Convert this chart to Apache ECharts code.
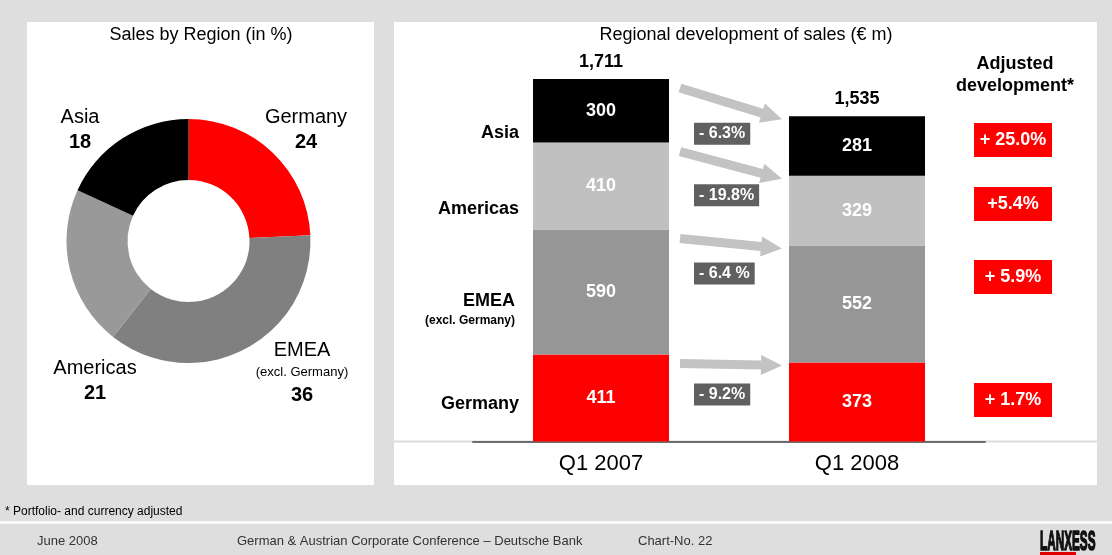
<!DOCTYPE html>
<html>
<head>
<meta charset="utf-8">
<script src="https://cdn.jsdelivr.net/npm/echarts@6/dist/echarts.min.js"></script>
<style>
  html, body { margin: 0; padding: 0; background: #dedede; }
  #chart { width: 1112px; height: 555px; }
</style>
</head>
<body>
<div id="chart"></div>
<script>
// data
const regions = ['Germany', 'EMEA', 'Americas', 'Asia'];
const regionNotes = ['', '(excl. Germany)', '', ''];
const quarters = ['Q1 2007', 'Q1 2008'];
const salesQ107 = [411, 590, 410, 300];
const salesQ108 = [373, 552, 329, 281];
const totals = [1711, 1535];
const sharePct = [24, 36, 21, 18];
const changes = ['- 9.2%', '- 6.4 %', '- 19.8%', '- 6.3%'];
const adjusted = ['+ 1.7%', '+ 5.9%', '+5.4%', '+ 25.0%'];

// styles
const FONT = '"Liberation Sans", Arial, sans-serif';
const barColors = ['#ff0000', '#969696', '#c0c0c0', '#000000'];
const pieColors = ['#ff0000', '#808080', '#999999', '#000000'];
const BAR_W = 136;

// label positions (pie labels, row labels, adjusted boxes)
const pieLabelPos = [[306, 130], [302, 373], [95, 381], [80, 130]];
const rowLabelY = [404, 301, 209, 133];
const adjustedY = [383, 260, 187, 123];

const chart = echarts.init(document.getElementById('chart'));

const fmt = v => String(v).replace(/\B(?=(\d{3})+(?!\d))/g, ',');

// cumulative tops of each segment, used for the arrows
let c07 = 0, c08 = 0;
const arrowData = regions.map((r, i) => {
  c07 += salesQ107[i];
  c08 += salesQ108[i];
  return [0, c07, c08, i];
});

const barSeries = regions.map((r, i) => ({
  name: r,
  type: 'bar',
  stack: 'sales',
  barWidth: BAR_W,
  data: [salesQ107[i], salesQ108[i]],
  itemStyle: { color: barColors[i] },
  label: {
    show: true,
    position: 'inside',
    color: '#fff',
    fontWeight: 'bold',
    fontSize: 18,
    fontFamily: FONT
  },
  silent: true
}));

const graphics = [
  { type: 'rect', shape: { x: 27, y: 22, width: 347, height: 463 }, style: { fill: '#fff' } },
  { type: 'rect', shape: { x: 394, y: 22, width: 703, height: 463 }, style: { fill: '#fff' } },
  { type: 'rect', shape: { x: 394, y: 440.5, width: 703, height: 2 }, style: { fill: '#dcdcdc' } },
  { type: 'rect', shape: { x: 0, y: 521, width: 1112, height: 3 }, style: { fill: '#f8f8f8' } },
  { type: 'text', x: 201, y: 35, style: { text: 'Sales by Region (in %)', font: '18px ' + FONT, fill: '#000', align: 'center', verticalAlign: 'middle' } },
  { type: 'text', x: 746, y: 35, style: { text: 'Regional development of sales (€ m)', font: '18px ' + FONT, fill: '#000', align: 'center', verticalAlign: 'middle' } },
  { type: 'text', x: 1015, y: 75, style: { text: 'Adjusted\ndevelopment*', font: 'bold 18px ' + FONT, lineHeight: 22, fill: '#000', align: 'center', verticalAlign: 'middle' } },
  { type: 'text', x: 5, y: 512, style: { text: '* Portfolio- and currency adjusted', font: '12px ' + FONT, fill: '#000', verticalAlign: 'middle' } },
  { type: 'text', x: 37, y: 541, style: { text: 'June 2008', font: '13px ' + FONT, fill: '#333', verticalAlign: 'middle' } },
  { type: 'text', x: 237, y: 541, style: { text: 'German & Austrian Corporate Conference – Deutsche Bank', font: '13px ' + FONT, fill: '#333', verticalAlign: 'middle' } },
  { type: 'text', x: 638, y: 541, style: { text: 'Chart-No. 22', font: '13px ' + FONT, fill: '#333', verticalAlign: 'middle' } },
  { type: 'text', x: 1040, y: 542, scaleX: 0.42, style: { text: 'LANXESS', font: 'bold 28px ' + FONT, fill: '#111', stroke: '#111', lineWidth: 1.6, verticalAlign: 'middle' } },
  { type: 'rect', shape: { x: 1040, y: 552, width: 36, height: 3 }, style: { fill: '#e00000' } }
];

regions.forEach((r, i) => {
  const right = i === 1 ? 515 : 519;
  graphics.push({ type: 'text', x: right, y: rowLabelY[i], style: { text: r, font: 'bold 18px ' + FONT, fill: '#000', align: 'right', verticalAlign: 'middle' } });
  if (regionNotes[i]) {
    graphics.push({ type: 'text', x: right, y: rowLabelY[i] + 20, style: { text: regionNotes[i], font: 'bold 12px ' + FONT, fill: '#000', align: 'right', verticalAlign: 'middle' } });
  }
  graphics.push({ type: 'rect', shape: { x: 974, y: adjustedY[i], width: 78, height: 34 }, style: { fill: '#ff0000' } });
  graphics.push({ type: 'text', x: 1013, y: adjustedY[i] + 17, style: { text: adjusted[i], font: 'bold 18px ' + FONT, fill: '#fff', align: 'center', verticalAlign: 'middle' } });
});

const option = {
  backgroundColor: '#dedede',
  animation: false,
  textStyle: { fontFamily: FONT },
  graphic: graphics,
  grid: { left: 473, right: 127, top: 17.8, bottom: 113.5 },
  xAxis: {
    type: 'category',
    data: quarters,
    axisTick: { show: false },
    axisLine: { lineStyle: { color: '#6e6e6e', width: 2 } },
    axisLabel: { color: '#000', fontSize: 22, margin: 11, fontFamily: FONT }
  },
  yAxis: { type: 'value', min: 0, max: 2000, show: false },
  series: [
    {
      type: 'pie',
      center: [188.5, 241],
      radius: [61, 122],
      startAngle: 90,
      clockwise: true,
      silent: true,
      data: regions.map((r, i) => ({ name: r, value: sharePct[i], itemStyle: { color: pieColors[i] } })),
      labelLine: { show: false },
      label: {
        show: true,
        position: 'inside',
        color: '#000',
        formatter: p => {
          const note = regionNotes[p.dataIndex];
          return '{n|' + p.name + '}' + (note ? '\n{s|' + note + '}' : '') + '\n{v|' + p.value + '}';
        },
        rich: {
          n: { fontSize: 20, lineHeight: 24, fontFamily: FONT, color: '#000', align: 'center' },
          s: { fontSize: 13, lineHeight: 20, fontFamily: FONT, color: '#000', align: 'center' },
          v: { fontSize: 20, lineHeight: 26, fontWeight: 'bold', fontFamily: FONT, color: '#000', align: 'center' }
        }
      },
      labelLayout: params => ({
        x: pieLabelPos[params.dataIndex][0],
        y: pieLabelPos[params.dataIndex][1],
        align: 'center',
        verticalAlign: 'middle'
      })
    },
    ...barSeries,
    {
      // totals above the stacks
      type: 'custom',
      silent: true,
      data: totals.map((t, i) => [i, t]),
      encode: { x: 0, y: 1 },
      renderItem: (params, api) => {
        const p = api.coord([api.value(0), api.value(1)]);
        return {
          type: 'text',
          x: p[0],
          y: p[1] - 8,
          style: {
            text: fmt(api.value(1)),
            fill: '#000',
            font: 'bold 18px ' + FONT,
            align: 'center',
            verticalAlign: 'bottom'
          }
        };
      }
    },
    {
      // arrows between the quarters and the change boxes
      type: 'custom',
      silent: true,
      data: arrowData,
      encode: { x: 0, y: 1 },
      renderItem: (params, api) => {
        const i = api.value(3);
        const p0 = api.coord([0, api.value(1)]);
        const p1 = api.coord([1, api.value(2)]);
        const sx = p0[0] + BAR_W / 2 + 11, sy = p0[1] + 9;
        const tx = p1[0] - BAR_W / 2 - 7, ty = p1[1] + 3;
        const dx = tx - sx, dy = ty - sy, len = Math.hypot(dx, dy);
        const ux = dx / len, uy = dy / len, nx = -uy, ny = ux;
        const headL = 21, headW = 10, shaftW = 4.5;
        const bx = tx - ux * headL, by = ty - uy * headL;
        const points = [
          [sx + nx * shaftW, sy + ny * shaftW],
          [bx + nx * shaftW, by + ny * shaftW],
          [bx + nx * headW, by + ny * headW],
          [tx, ty],
          [bx - nx * headW, by - ny * headW],
          [bx - nx * shaftW, by - ny * shaftW],
          [sx - nx * shaftW, sy - ny * shaftW]
        ];
        return {
          type: 'group',
          children: [
            { type: 'polygon', shape: { points: points }, style: { fill: '#c3c3c3' } },
            {
              type: 'text',
              x: p0[0] + BAR_W / 2 + 25,
              y: (sy + ty) / 2 + 30,
              style: {
                text: changes[i],
                fill: '#fff',
                font: 'bold 16px ' + FONT,
                backgroundColor: '#606060',
                padding: [3, 5, 3, 5],
                align: 'left',
                verticalAlign: 'middle'
              }
            }
          ]
        };
      }
    }
  ]
};

chart.setOption(option);
window.addEventListener('resize', function () {
  chart.resize();
});
</script>
</body>
</html>
